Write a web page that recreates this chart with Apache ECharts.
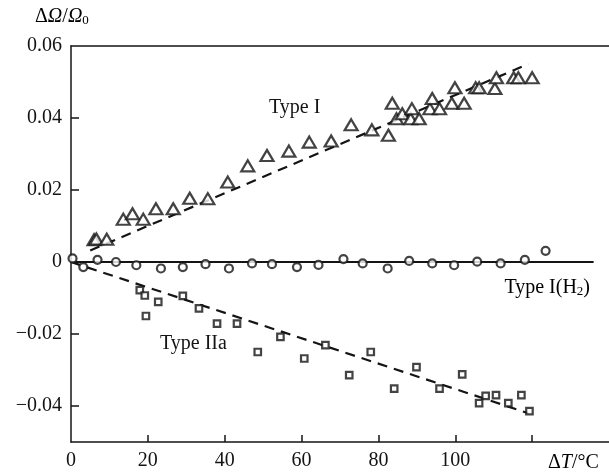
<!DOCTYPE html>
<html>
<head>
<meta charset="utf-8">
<script src="https://cdn.jsdelivr.net/npm/echarts@6/dist/echarts.min.js"></script>
<style>
html, body { margin: 0; padding: 0; background: #fff; }
#box { width: 609px; height: 472px; }
</style>
</head>
<body>
<div id="box"></div>
<script>
// Type I (triangles)
var typeI_T = [6.0, 6.6, 9.3, 13.6, 16.0, 18.8, 22.1, 26.6, 30.9, 35.6, 40.8, 46.0, 51.0, 56.7, 62.0, 67.7,
  72.9, 78.3, 82.6, 83.6, 84.7, 86.2, 88.4, 88.7, 90.6, 93.4, 94.0, 95.9, 99.1, 99.9, 102.3, 105.3,
  106.2, 110.3, 110.7, 115.2, 116.4, 120.0];
var typeI_V = [0.0062, 0.0064, 0.0063, 0.0119, 0.0134, 0.0119, 0.0148, 0.0148, 0.0177, 0.0176, 0.0222, 0.0267, 0.0296, 0.0308, 0.0333, 0.0336,
  0.0381, 0.0367, 0.0352, 0.0441, 0.0398, 0.0412, 0.0398, 0.0426, 0.0398, 0.0426, 0.0454, 0.0426, 0.0441, 0.0484, 0.0441, 0.0484,
  0.0484, 0.0482, 0.0512, 0.0512, 0.0512, 0.0512];
var typeI_fitT = [5, 119];
var typeI_fitV = [0.0032, 0.0550];

// Type I(H2) (circles)
var typeH2_T = [0.4, 3.2, 6.9, 11.7, 17.0, 23.4, 29.1, 35.0, 41.1, 47.1, 52.3, 58.8, 64.4, 70.9, 75.9, 82.4,
  88.0, 94.0, 99.7, 105.7, 111.8, 118.1, 123.5];
var typeH2_V = [0.0010, -0.0014, 0.0006, 0.0000, -0.0009, -0.0018, -0.0014, -0.0006, -0.0018, -0.0004, -0.0006, -0.0014, -0.0008, 0.0008, -0.0004, -0.0018,
  0.0003, -0.0004, -0.0009, 0.0001, -0.0004, 0.0006, 0.0031];
var typeH2_fitT = [0, 136];
var typeH2_fitV = [0, 0];

// Type IIa (squares)
var typeIIa_T = [17.9, 19.2, 19.5, 22.7, 29.1, 33.3, 38.0, 43.2, 48.6, 54.5, 60.7, 66.2, 72.4, 78.0, 84.1, 89.9,
  95.9, 101.8, 106.2, 107.9, 110.6, 113.8, 117.2, 119.3];
var typeIIa_V = [-0.0078, -0.0093, -0.0150, -0.0111, -0.0094, -0.0129, -0.0171, -0.0171, -0.0250, -0.0208, -0.0268, -0.0231, -0.0314, -0.0250, -0.0352, -0.0292,
  -0.0352, -0.0312, -0.0392, -0.0372, -0.0370, -0.0392, -0.0370, -0.0414];
var typeIIa_fitT = [0, 119];
var typeIIa_fitV = [0, -0.0420];

// axis ticks
var xTicks = [20, 40, 60, 80, 100, 120];
var xLabelVals = [0, 20, 40, 60, 80, 100];
var xLabels = ["0", "20", "40", "60", "80", "100"];
var yTicks = [-0.04, -0.02, 0, 0.02, 0.04];
var yLabelVals = [-0.04, -0.02, 0, 0.02, 0.04, 0.06];
var yLabels = ["\u22120.04", "\u22120.02", "0", "0.02", "0.04", "0.06"];

var FONT = "Liberation Serif";
var INK = "#141414";

function pairs(xs, ys) {
  return xs.map(function (x, i) { return [x, ys[i]]; });
}
function pick(vals, labels, v) {
  for (var i = 0; i < vals.length; i++) {
    if (Math.abs(vals[i] - v) < 1e-9) return labels[i];
  }
  return "";
}

var myChart = echarts.init(document.getElementById("box"), null, { renderer: "canvas" });

var markStyle = { color: "#fff", borderColor: INK, borderWidth: 2.2 };
var fitDash = { color: INK, width: 2.2, type: [10, 7] };

var option = {
  animation: false,
  backgroundColor: "#fff",
  grid: { left: 71, top: 46, width: 539, height: 396 },
  xAxis: [
    {
      type: "value",
      min: 0,
      max: 140,
      position: "bottom",
      axisLine: { show: true, onZero: false, lineStyle: { color: INK, width: 1.5 } },
      axisTick: { show: true, inside: true, length: 7, customValues: xTicks, lineStyle: { color: INK, width: 1.5 } },
      axisLabel: {
        customValues: xLabelVals,
        formatter: function (v) { return pick(xLabelVals, xLabels, v); },
        fontFamily: FONT, fontSize: 20, color: INK, margin: 9
      },
      splitLine: { show: false }
    },
    {
      type: "value",
      min: 0,
      max: 140,
      position: "top",
      axisLine: { show: true, onZero: false, lineStyle: { color: INK, width: 1.5 } },
      axisTick: { show: false },
      axisLabel: { show: false },
      splitLine: { show: false }
    }
  ],
  yAxis: {
    type: "value",
    min: -0.05,
    max: 0.06,
    axisLine: { show: true, onZero: false, lineStyle: { color: INK, width: 1.5 } },
    axisTick: { show: true, inside: true, length: 8, customValues: yTicks, lineStyle: { color: INK, width: 1.5 } },
    axisLabel: {
      customValues: yLabelVals,
      formatter: function (v) { return pick(yLabelVals, yLabels, v); },
      fontFamily: FONT, fontSize: 20, color: INK, margin: 9
    },
    splitLine: { show: false }
  },
  series: [
    { type: "line", name: "fitI", data: pairs(typeI_fitT, typeI_fitV), symbol: "none", lineStyle: fitDash, z: 1, silent: true },
    { type: "line", name: "fitH2", data: pairs(typeH2_fitT, typeH2_fitV), symbol: "none", lineStyle: { color: INK, width: 2 }, z: 1, silent: true },
    { type: "line", name: "fitIIa", data: pairs(typeIIa_fitT, typeIIa_fitV), symbol: "none", lineStyle: fitDash, z: 1, silent: true },
    { type: "scatter", name: "Type I", data: pairs(typeI_T, typeI_V), symbol: "triangle", symbolSize: [13, 11], itemStyle: markStyle, z: 3 },
    { type: "scatter", name: "Type I(H2)", data: pairs(typeH2_T, typeH2_V), symbol: "circle", symbolSize: 8, itemStyle: markStyle, z: 3 },
    { type: "scatter", name: "Type IIa", data: pairs(typeIIa_T, typeIIa_V), symbol: "rect", symbolSize: 6.5, itemStyle: markStyle, z: 3 }
  ],
  graphic: [
    {
      type: "text", x: 35, y: 17,
      style: {
        text: "{n|\u0394}{i|\u03a9}{n|/}{i|\u03a9}{s|0}",
        verticalAlign: "middle",
        rich: {
          n: { fontFamily: FONT, fontSize: 20, color: INK },
          i: { fontFamily: FONT, fontSize: 20, fontStyle: "italic", color: INK },
          s: { fontFamily: FONT, fontSize: 13, color: INK, verticalAlign: "bottom", padding: [6, 0, 0, 0] }
        }
      }
    },
    {
      type: "text", x: 269, y: 108,
      style: { text: "Type I", font: "20px " + FONT, fill: INK, verticalAlign: "middle" }
    },
    {
      type: "text", x: 590, y: 288,
      style: {
        text: "{n|Type I(H}{s|2}{n|)}",
        align: "right",
        verticalAlign: "middle",
        rich: {
          n: { fontFamily: FONT, fontSize: 20, color: INK },
          s: { fontFamily: FONT, fontSize: 13, color: INK, verticalAlign: "bottom", padding: [6, 0, 0, 0] }
        }
      }
    },
    {
      type: "text", x: 160, y: 344,
      style: { text: "Type IIa", font: "20px " + FONT, fill: INK, verticalAlign: "middle" }
    },
    {
      type: "text", x: 548, y: 463,
      style: {
        text: "{n|\u0394}{i|T}{n|/\u00b0C}",
        verticalAlign: "middle",
        rich: {
          n: { fontFamily: FONT, fontSize: 20, color: INK },
          i: { fontFamily: FONT, fontSize: 20, fontStyle: "italic", color: INK }
        }
      }
    }
  ]
};
myChart.setOption(option);
</script>
</body>
</html>
